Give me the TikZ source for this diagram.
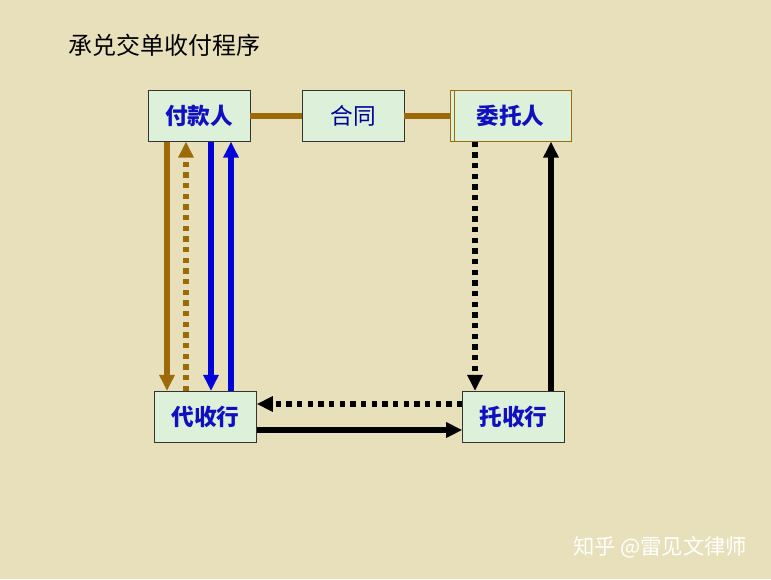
\documentclass[tikz,border=0pt]{standalone}
\usepackage{fontspec}
\newfontfamily\cjk{Noto Sans CJK SC}
\usetikzlibrary{positioning, arrows.meta}
\definecolor{bg}{HTML}{E8E0BA}
\definecolor{boxfill}{HTML}{DDF0DA}
\definecolor{gold}{HTML}{9C6A08}
\definecolor{txtblue}{HTML}{1010C0}
\tikzset{
x=0.75pt, y=-0.75pt,
box/.style={draw=black!80, fill=boxfill, minimum width=76.5pt, minimum height=38pt, inner sep=0pt, font=\cjk\fontsize{17}{17}\selectfont\bfseries, text=txtblue}, % the bank and party boxes
flow/.style={line width=4pt, -{Triangle[length=12pt,width=11pt]}}, % arrows between boxes
dots/.style={flow, dash pattern=on 4pt off 4pt},
}
\begin{document}
\begin{tikzpicture}
\fill[bg] (0,0) rectangle (771,579);
\useasboundingbox (0,0) rectangle (771,579);
\node[anchor=west, font=\cjk\fontsize{18}{18}\selectfont] (title) at (64,45) {承兑交单收付程序};
\node[box] (fk) at (199,116) {付款人};
\node[box, font=\cjk\fontsize{17}{17}\selectfont, text=blue!60!black] (ht) at (353,116) {合同};
\node[box, draw=gold, minimum width=90.75pt] (wt) at (510.5,116) {委托人};
\draw[gold] ([xshift=3.75pt]wt.north west) -- ([xshift=3.75pt]wt.south west);
\node[box] (ds) at (205.5,416.5) {代收行};
\node[box] (ts) at (513.5,416.5) {托收行};
% contract line
\draw[gold, line width=4.5pt] (fk) -- (ht);
\draw[gold, line width=4.5pt] (ht) -- (wt);
% payer and collecting bank
\draw[flow, gold] (fk.south -| 167,0) -- (ds.north -| 167,0);
\draw[dots, gold] (ds.north -| 186,0) -- (fk.south -| 186,0);
\draw[flow, blue!85!black] (fk.south -| 211,0) -- (ds.north -| 211,0);
\draw[flow, blue!85!black] (ds.north -| 231,0) -- (fk.south -| 231,0);
% drawer and remitting bank
\draw[dots] (wt.south -| 475,0) -- (ts.north -| 475,0);
\draw[flow] (ts.north -| 551,0) -- (wt.south -| 551,0);
% between the banks
\draw[dots] (ts.west |- 0,404) -- (ds.east |- 0,404);
\draw[flow] (ds.east |- 0,430) -- (ts.west |- 0,430);
\node[anchor=east, text=white, font=\cjk\fontsize{16}{16}\selectfont] (wm) at (752,547) {知乎 @雷见文律师};
\end{tikzpicture}
\end{document}
